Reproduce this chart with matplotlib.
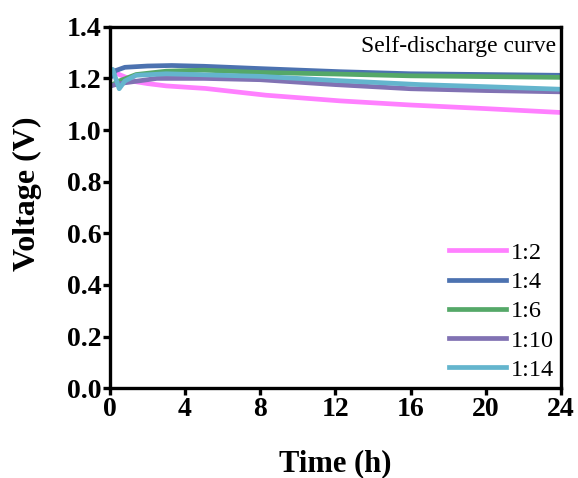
import matplotlib
matplotlib.use("Agg")
import matplotlib.pyplot as plt

plt.rcParams['font.family'] = ['Liberation Serif', 'DejaVu Serif']

# Self-discharge voltage vs. time for each ratio
t_12 = [0, 0.2, 0.5, 1.0, 1.4, 2.0, 3.0, 5.1, 8.3, 12.25, 16.0, 20.0, 24.0]
v_12 = [1.215, 1.232, 1.215, 1.200, 1.187, 1.180, 1.171, 1.161, 1.135, 1.113, 1.097, 1.083, 1.068]

t_14 = [0, 0.3, 0.8, 2.0, 3.3, 5.0, 8.0, 12.25, 16.0, 20.0, 24.0]
v_14 = [1.200, 1.230, 1.243, 1.248, 1.250, 1.247, 1.238, 1.226, 1.218, 1.215, 1.212]

t_16 = [0, 0.5, 1.4, 3.0, 5.0, 8.0, 12.0, 16.0, 20.0, 24.0]
v_16 = [1.170, 1.190, 1.215, 1.228, 1.232, 1.223, 1.217, 1.210, 1.207, 1.204]

t_110 = [0, 0.5, 1.5, 2.5, 5.0, 8.0, 12.0, 16.0, 20.0, 24.0]
v_110 = [1.170, 1.180, 1.190, 1.200, 1.200, 1.195, 1.176, 1.160, 1.153, 1.148]

t_114 = [0, 0.15, 0.5, 0.8, 1.4, 3.0, 8.0, 12.0, 16.5, 20.0, 24.0]
v_114 = [1.220, 1.235, 1.160, 1.190, 1.212, 1.218, 1.208, 1.192, 1.176, 1.168, 1.158]

labels = ['1:2', '1:4', '1:6', '1:10', '1:14']
colors = ['#ff80ff', '#4c72b0', '#55a868', '#8172b3', '#64b5cd']

x_ticks = [0, 4, 8, 12, 16, 20, 24]
y_ticks = [0.0, 0.2, 0.4, 0.6, 0.8, 1.0, 1.2, 1.4]

fig = plt.figure(figsize=(5.78, 4.78), dpi=100)
ax = fig.add_axes([0.19, 0.1877, 0.7806, 0.7563])

series = [(t_12, v_12), (t_14, v_14), (t_16, v_16), (t_110, v_110), (t_114, v_114)]
for (t, v), lab, c in zip(series, labels, colors):
    ax.plot(t, v, color=c, lw=3.4, label=lab)

ax.set_xlim(0, 24)
ax.set_ylim(0, 1.4)
ax.set_xticks(x_ticks)
ax.set_yticks(y_ticks)
ax.set_xticklabels([str(x) for x in x_ticks])
ax.set_yticklabels([f"{y:.1f}" for y in y_ticks])

for s in ax.spines.values():
    s.set_linewidth(2.4)
ax.tick_params(axis='both', direction='out', length=5, width=2.4,
               labelsize=20, pad=1)
for lbl in ax.get_xticklabels() + ax.get_yticklabels():
    lbl.set_fontweight('bold')

ax.set_xlabel('Time (h)', fontsize=22, fontweight='bold')
ax.set_ylabel('Voltage (V)', fontsize=23, fontweight='bold')
ax.xaxis.set_label_coords(0.5, -0.168)
ax.yaxis.set_label_coords(-0.151, 0.537)

ax.text(0.99, 0.975, 'Self-discharge curve', transform=ax.transAxes,
        ha='right', va='top', fontsize=17)

leg = ax.legend(loc='lower right', frameon=False, fontsize=17.5,
                handlelength=2.35, handletextpad=0.2, labelspacing=0.3,
                borderaxespad=0.2, borderpad=0.1)

fig.savefig('out.png', dpi=100)
